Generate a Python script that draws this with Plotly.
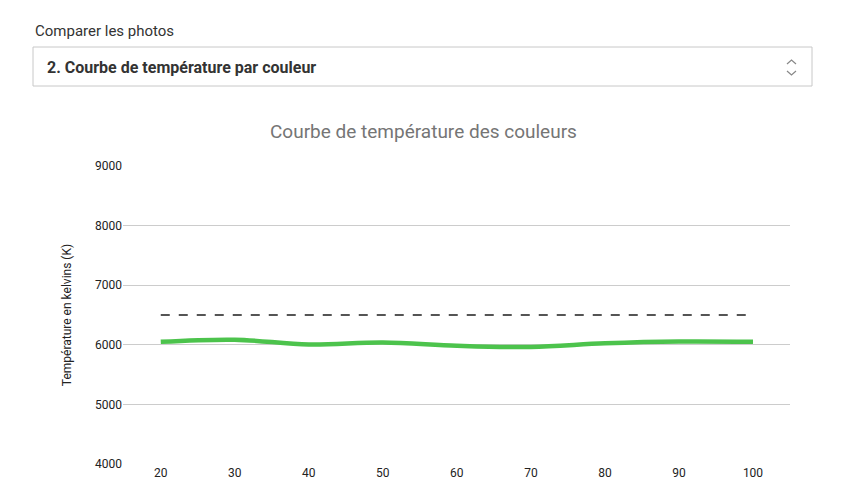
import plotly.graph_objects as go

# Données
positions = [20, 30, 40, 50, 60, 70, 80, 90, 100]
temperature = [6050, 6085, 6005, 6040, 5985, 5965, 6025, 6055, 6050]
reference = [6500] * len(positions)
y_ticks = [4000, 5000, 6000, 7000, 8000, 9000]

# la page ajoute une marge de 8 px : on décale tout
OFF = 8
W, H = 860, 496
L, R, T, B = 123 - OFF, 70 + OFF, 166 - OFF, 32 + OFF
pw, ph = W - L - R, H - T - B


def px(x):
    return (x - OFF - L) / pw


def py(y):
    return (H - B - (y - OFF)) / ph


fig = go.Figure()
fig.add_trace(go.Scatter(x=positions, y=reference, mode="lines",
                         line=dict(color="#555555", width=2, dash="dash"),
                         hoverinfo="skip"))
fig.add_trace(go.Scatter(x=positions, y=temperature, mode="lines",
                         line=dict(color="#4cc34c", width=4.5, shape="spline"),
                         ))

shapes = [
    # boîte du menu déroulant
    dict(type="rect", xref="paper", yref="paper",
         x0=px(33), x1=px(812), y0=py(86), y1=py(47),
         line=dict(color="#c8c8c8", width=1), fillcolor="white"),
    # chevrons
    dict(type="path", xref="paper", yref="paper",
         path=f"M {px(787)} {py(64)} L {px(791.5)} {py(60)} L {px(796)} {py(64)}",
         line=dict(color="#888", width=1.2)),
    dict(type="path", xref="paper", yref="paper",
         path=f"M {px(787)} {py(71)} L {px(791.5)} {py(75)} L {px(796)} {py(71)}",
         line=dict(color="#888", width=1.2)),
]

annotations = [
    dict(text="Comparer les photos", xref="paper", yref="paper",
         x=px(33), y=py(31), xanchor="left", yanchor="middle", showarrow=False,
         font=dict(size=15, color="#333333")),
    dict(text="<b>2. Courbe de température par couleur</b>", xref="paper", yref="paper",
         x=px(45), y=py(68), xanchor="left", yanchor="middle", showarrow=False,
         font=dict(size=16, color="#333333")),
    dict(text="Courbe de température des couleurs", xref="paper", yref="paper",
         x=px(423), y=py(131), xanchor="center", yanchor="middle", showarrow=False,
         font=dict(size=19, color="#757575")),
]

fig.update_layout(
    width=W, height=H,
    margin=dict(l=L, r=R, t=T, b=B),
    paper_bgcolor="white", plot_bgcolor="white",
    font=dict(family="Roboto", size=12, color="#222222"),
    showlegend=False,
    shapes=shapes,
    annotations=annotations,
)
fig.update_xaxes(range=[14.9, 105], tickvals=positions, showgrid=False,
                 zeroline=False, showline=False, ticks="")
fig.update_yaxes(range=[4000, 9000], tickvals=y_ticks, gridcolor="#cccccc",
                 zeroline=False, showline=False, ticks="",
                 title=dict(text="Température en kelvins (K)", font=dict(size=12), standoff=20))

fig.write_html("out.html")
